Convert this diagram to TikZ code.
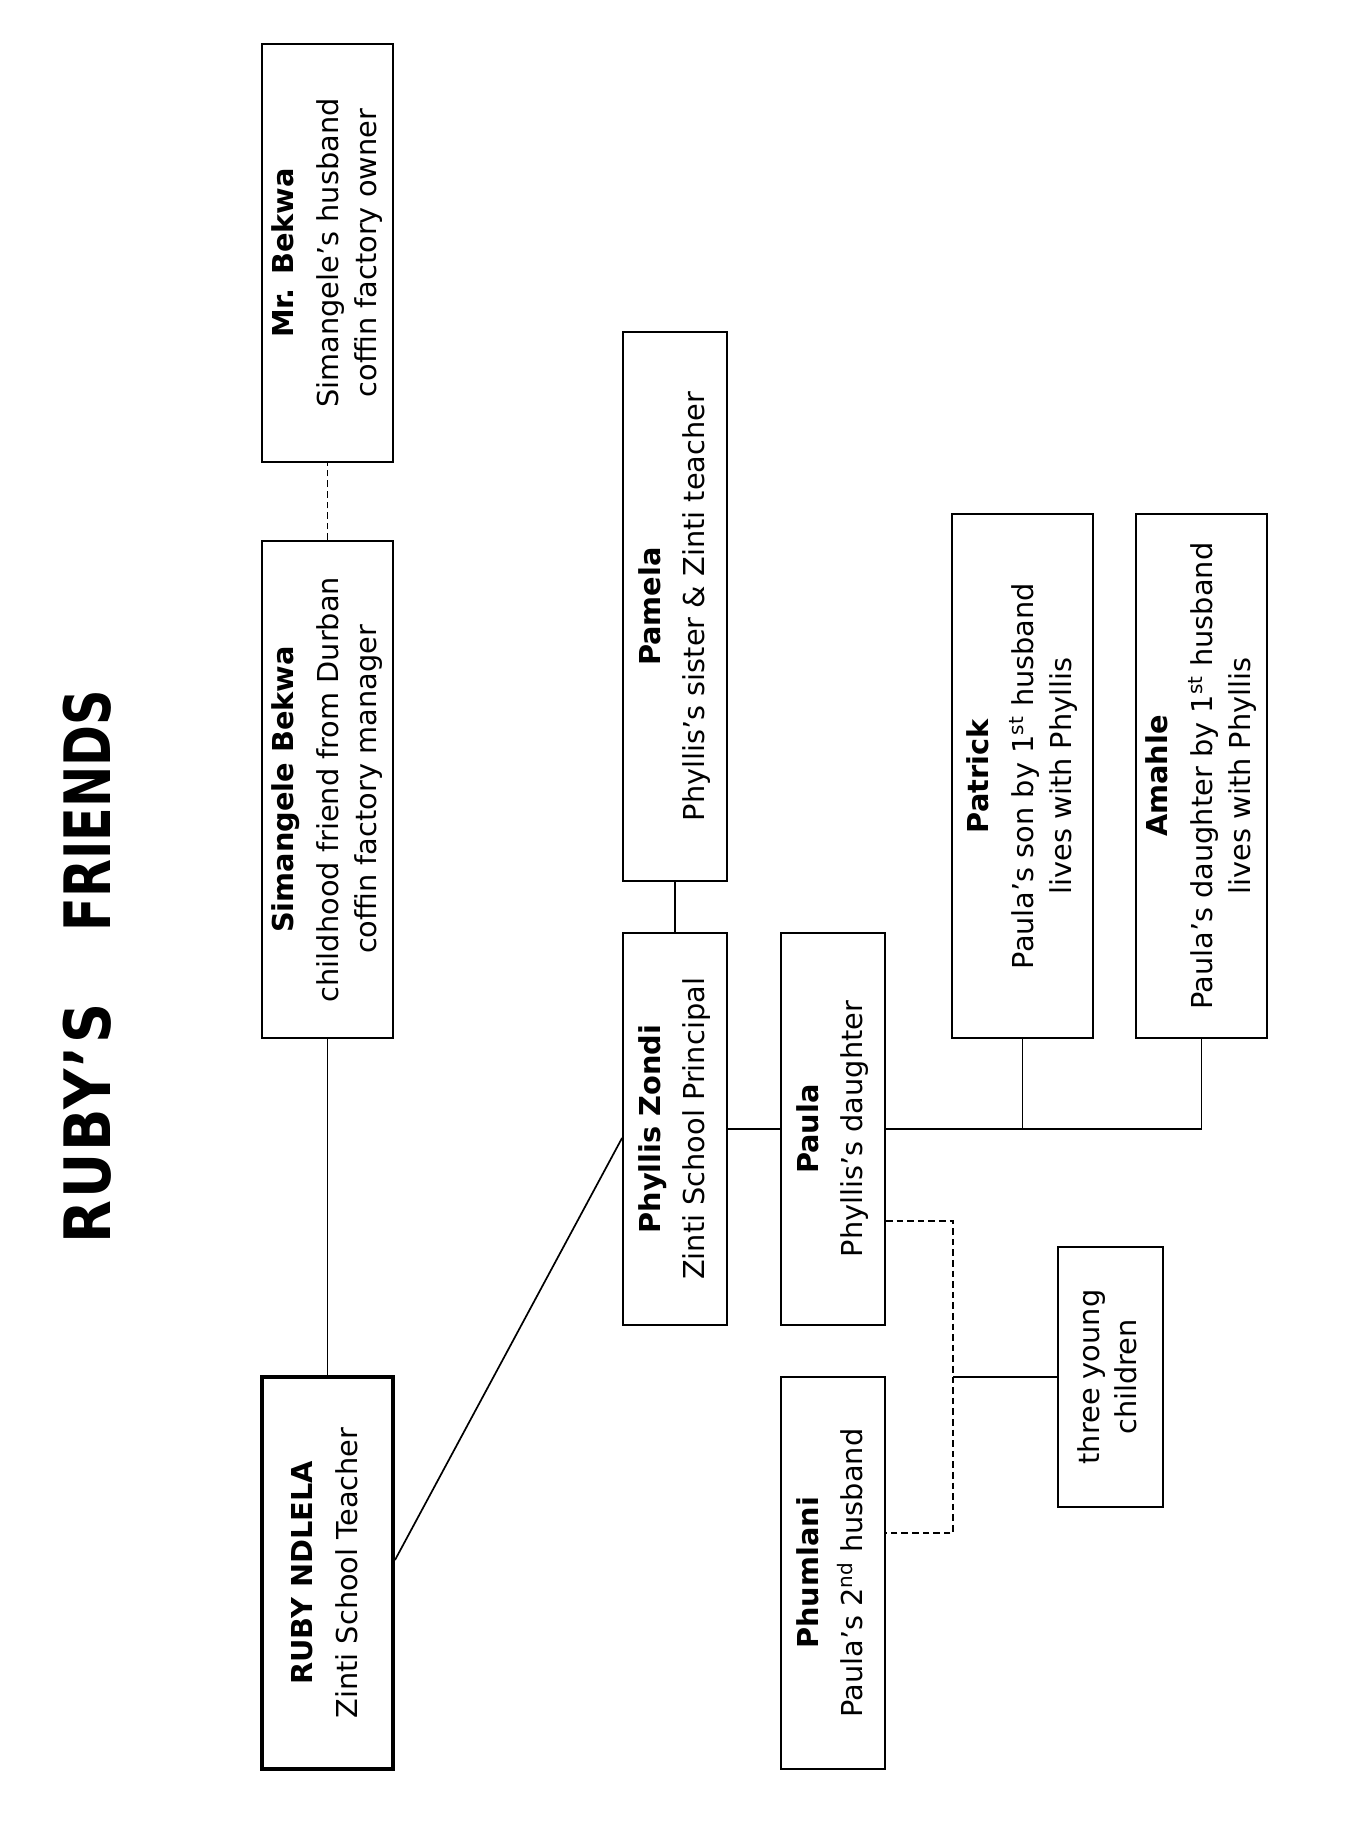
\documentclass[tikz,border=0pt]{standalone}
\usepackage{fontspec}
\setmainfont{DejaVu Sans}
\usepackage{graphicx}
\usetikzlibrary{calc}
\tikzset{
  box/.style={draw, line width=0.95pt, inner sep=0pt, fill=white},
  mainbox/.style={box, line width=2pt},
  link/.style={line width=0.85pt},
  dlink/.style={line width=0.85pt, dash pattern=on 3.3pt off 2pt},
}
\newcommand{\rtext}[1]{\rotatebox{90}{\fontsize{14.4}{18.8}\selectfont\begin{tabular}{@{}c@{}}#1\end{tabular}}}
\newcommand{\nm}[1]{\textbf{#1}\\[3.5pt]}
\begin{document}
\begin{tikzpicture}[x=0.5pt,y=-0.5pt]
\useasboundingbox (0,0) rectangle (1345,1832);
\fill[white] (0,0) rectangle (1345,1832);

\node[font=\bfseries\fontsize{32}{32}\selectfont, inner sep=0pt] (title) at (87,967)
  {\rotatebox{90}{\scalebox{0.87}[1]{\addfontfeatures{LetterSpace=4}RUBY’S}\hspace{36pt}\scalebox{0.77}[1]{FRIENDS}}};

\node[mainbox, minimum width=65.5pt, minimum height=196pt] (ruby) at (327.5,1573)
  {\rtext{\nm{RUBY NDLELA}Zinti School Teacher}};
\node[box, minimum width=65.5pt, minimum height=248.5pt] (sim) at (327.5,789.5)
  {\rtext{\nm{Simangele Bekwa}childhood friend from Durban\\coffin factory manager}};
\node[box, minimum width=65.5pt, minimum height=209pt] (bekwa) at (327.5,253)
  {\rtext{\nm{Mr. Bekwa}Simangele’s husband\\coffin factory owner}};
\node[box, minimum width=52pt, minimum height=274.5pt] (pamela) at (675,606.5)
  {\rtext{\nm{Pamela}Phyllis’s sister \& Zinti teacher}};
\node[box, minimum width=52pt, minimum height=196pt] (phyllis) at (675,1129)
  {\rtext{\nm{Phyllis Zondi}Zinti School Principal}};
\node[box, minimum width=52pt, minimum height=196pt] (paula) at (833,1129)
  {\rtext{\nm{Paula}Phyllis’s daughter}};
\node[box, minimum width=70.5pt, minimum height=262pt] (patrick) at (1022.5,776)
  {\rtext{\nm{Patrick}Paula’s son by 1\textsuperscript{st} husband\\lives with Phyllis}};
\node[box, minimum width=65.5pt, minimum height=262pt] (amahle) at (1201.5,776)
  {\rtext{\nm{Amahle}Paula’s daughter by 1\textsuperscript{st} husband\\lives with Phyllis}};
\node[box, minimum width=52pt, minimum height=196pt] (phumlani) at (833,1573)
  {\rtext{\nm{Phumlani}Paula’s 2\textsuperscript{nd} husband}};
\node[box, minimum width=52.5pt, minimum height=130pt] (kids) at (1110.5,1377)
  {\rtext{three young\\children}};

% connectors
\draw[link] (ruby.north) -- (sim.south);
\draw[dlink] (sim.north) -- (bekwa.south);
\draw[link] ($(ruby.east)+(0,-13)$) -- ($(phyllis.west)+(0,9)$);
\draw[link] (phyllis.north) -- (pamela.south);
\draw[link] (phyllis.east) -- (paula.west);
\draw[link] (paula.east) -- (amahle.south |- paula.east) -- (amahle.south);
\draw[link] (patrick.south) -- (patrick.south |- paula.east);
\coordinate (pd) at ($(paula.east)+(0,92)$);
\coordinate (hd) at ($(phumlani.east)+(0,-40)$);
\coordinate (j) at (953,1377);
\draw[dlink] (pd) -- (pd -| j) -- (hd -| j) -- (hd);
\draw[link] (j) -- (kids.west);
\end{tikzpicture}
\end{document}
